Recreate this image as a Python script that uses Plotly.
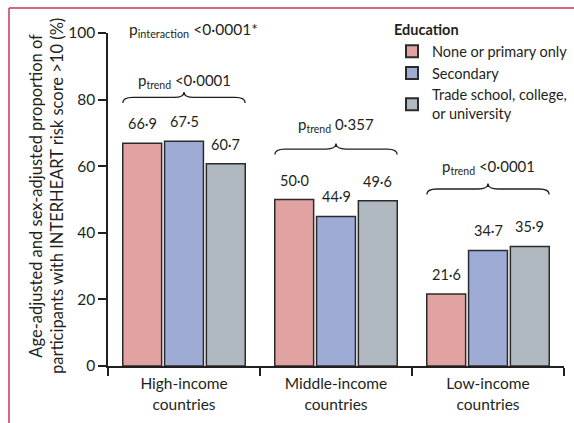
import plotly.graph_objects as go

categories = ["High-income<br>countries", "Middle-income<br>countries", "Low-income<br>countries"]
series_names = ["None or primary only", "Secondary", "Trade school, college,<br>or university"]
none_primary = [66.9, 50.0, 21.6]
secondary = [67.5, 44.9, 34.7]
trade_college = [60.7, 49.6, 35.9]
colors = ["#E1A3A2", "#9EACD5", "#B1B9C0"]
ptrend_labels = ["p<sub>trend</sub> &lt;0·0001", "p<sub>trend</sub> 0·357", "p<sub>trend</sub> &lt;0·0001"]
ptrend_y = [85.7, 72.5, 59.8]
brace_y = [79.0, 63.5, 51.5]
interaction_label = "p<sub>interaction</sub> &lt;0·0001*"
y_title = "Age-adjusted and sex-adjusted proportion of<br>participants with INTERHEART risk score >10 (%)"
y_ticks = [0, 20, 40, 60, 80, 100]

FONT = "Lato"
TXT = "#231F20"
W, H = 574, 423
ML, MR, MT, MB = 108, 10, 33, 57
PW, PH = W - ML - MR, H - MT - MB
BARGAP = 0.175
BARGROUPGAP = 0.07

series = [none_primary, secondary, trade_college]
xs = list(range(len(categories)))

fig = go.Figure()
for name, vals, col in zip(series_names, series, colors):
    fig.add_trace(go.Bar(
        x=xs, y=vals, name=name,
        marker=dict(color=col, line=dict(color="#2b2b2b", width=1.5)),
    ))

# value labels above bars
slot = (1 - BARGAP) / len(series)
for i, vals in enumerate(series):
    for k, v in enumerate(vals):
        fig.add_annotation(
            x=k + (i - (len(series) - 1) / 2) * slot, y=v,
            xref="x", yref="y", text=f"{v:.1f}".replace(".", "·"),
            showarrow=False, yanchor="bottom", yshift=9,
            font=dict(family=FONT, size=14.5, color=TXT),
        )

# braces and p-trend labels
half = (1 - BARGAP) / 2
units_per_px_y = 100 / PH
units_per_px_x = 3 / PW
for k in xs:
    x0, x1, xm = k - half + 0.01, k + half - 0.01, k
    yb = brace_y[k]
    ym = yb + 5.5 * units_per_px_y
    yt = yb + 11 * units_per_px_y
    r = 10 * units_per_px_x
    path = (f"M{x0},{yb} Q{x0},{ym} {x0 + r},{ym} L{xm - r},{ym} "
            f"Q{xm},{ym} {xm},{yt} Q{xm},{ym} {xm + r},{ym} "
            f"L{x1 - r},{ym} Q{x1},{ym} {x1},{yb}")
    fig.add_shape(type="path", path=path, xref="x", yref="y",
                  line=dict(color=TXT, width=1.3))
    fig.add_annotation(x=k, y=ptrend_y[k], xref="x", yref="y",
                       text=ptrend_labels[k], showarrow=False,
                       font=dict(family=FONT, size=15, color=TXT))

fig.add_annotation(x=(127 - ML) / PW, y=1 + 3 / PH, xref="paper", yref="paper",
                   text=interaction_label, showarrow=False,
                   xanchor="left", yanchor="middle",
                   font=dict(family=FONT, size=15.5, color=TXT))

# y-axis title
fig.add_annotation(x=(46 - ML) / PW, y=(PH - (196 - MT)) / PH, xref="paper", yref="paper",
                   text=y_title, showarrow=False, textangle=-90,
                   xanchor="center", yanchor="middle",
                   font=dict(family=FONT, size=16.5, color=TXT))

# decorative frame lines (top and left)
fx = (9 - ML) / PW
fy = (H - MB - 8) / PH
fig.add_shape(type="line", xref="paper", yref="paper",
              x0=fx, x1=(W - ML) / PW, y0=fy, y1=fy,
              line=dict(color="#C3365E", width=1.5))
fig.add_shape(type="line", xref="paper", yref="paper",
              x0=fx, x1=fx, y0=fy, y1=-(MB) / PH,
              line=dict(color="#C3365E", width=1.5))

fig.update_layout(
    width=W, height=H,
    margin=dict(l=ML, r=MR, t=MT, b=MB, autoexpand=False),
    paper_bgcolor="white", plot_bgcolor="white",
    barmode="group", bargap=BARGAP, bargroupgap=BARGROUPGAP,
    font=dict(family=FONT, size=14, color=TXT),
    showlegend=True,
    legend=dict(
        title=dict(text="<b>Education</b>", font=dict(family=FONT, size=14.5, color=TXT)),
        x=(392 - ML) / PW, y=1.05, xanchor="left", yanchor="top",
        bgcolor="rgba(0,0,0,0)", font=dict(family=FONT, size=14.5, color=TXT),
        tracegroupgap=0, itemsizing="constant",
    ),
    xaxis=dict(
        range=[-0.5, 2.5], tickvals=xs, ticktext=categories,
        ticks="", showline=True, linecolor=TXT, linewidth=1.5,
        showgrid=False, zeroline=False, fixedrange=True, automargin=False,
        ticklabelstandoff=3,
        tickfont=dict(family=FONT, size=15.5, color=TXT),
        minor=dict(tickvals=[-0.5, 0.5, 1.5, 2.5], ticks="outside",
                   ticklen=8, tickwidth=1.5, tickcolor=TXT, showgrid=False),
    ),
    yaxis=dict(
        range=[0, 100], tickvals=y_ticks, ticks="outside", ticklen=8,
        tickwidth=1.5, tickcolor=TXT, showline=True, linecolor=TXT,
        linewidth=1.5, showgrid=False, zeroline=False, fixedrange=True,
        automargin=False,
        tickfont=dict(family=FONT, size=15.5, color=TXT),
    ),
)

fig.write_html("out.html", config={"displayModeBar": False},
               post_script="document.body.style.margin='0';document.body.style.overflow='hidden';")
